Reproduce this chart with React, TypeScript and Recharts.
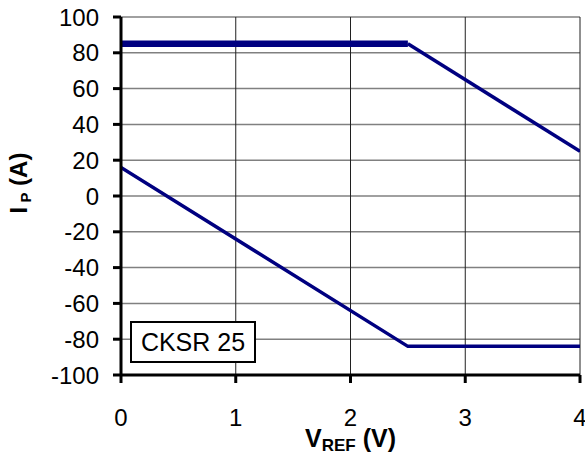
import React from 'react';
import {
  LineChart,
  Line,
  XAxis,
  YAxis,
  CartesianGrid,
} from 'recharts';

const xTicks = [0, 1, 2, 3, 4];
const yTicks = [-100, -80, -60, -40, -20, 0, 20, 40, 60, 80, 100];

// upper limit: flat part drawn heavier, then the falling part
const upperFlat = [
  { x: 0, y: 85 },
  { x: 2.5, y: 85 },
];
const upperSlope = [
  { x: 2.5, y: 85 },
  { x: 4, y: 25 },
];
const lowerLimit = [
  { x: 0, y: 16 },
  { x: 2.5, y: -84 },
  { x: 4, y: -84 },
];

const NAVY = '#000080';
const FONT = '"Liberation Sans", Arial, sans-serif';

const XTitle = ({ viewBox }: any) => {
  const cx = viewBox.x + viewBox.width / 2;
  return (
    <text x={cx} y={447} textAnchor="middle" fontFamily={FONT} fontWeight="bold" fontSize={25} fill="#000">
      <tspan>V</tspan>
      <tspan fontSize={17} dy={4}>REF</tspan>
      <tspan dy={-4}> (V)</tspan>
    </text>
  );
};

const YTitle = () => {
  const cy = 183;
  return (
    <text
      x={27}
      y={cy}
      transform={`rotate(-90, 27, ${cy})`}
      textAnchor="middle"
      fontFamily={FONT}
      fontWeight="bold"
      fontSize={24}
      fill="#000"
    >
      <tspan>I</tspan>
      <tspan fontSize={15} dy={4}> P</tspan>
      <tspan dy={-4}> (A)</tspan>
    </text>
  );
};

export default function App() {
  return (
    <div style={{ position: 'absolute', left: 0, top: 0, width: 585, height: 456, background: '#fff' }}>
      <LineChart
        width={585}
        height={456}
        margin={{ top: 17, right: 5, bottom: 41, left: 61 }}
      >
        <CartesianGrid vertical={false} stroke="#808080" strokeWidth={1.5} />
        <CartesianGrid horizontal={false} stroke="#202020" strokeWidth={1} />
        <XAxis
          type="number"
          dataKey="x"
          domain={[0, 4]}
          ticks={xTicks}
          height={40}
          axisLine={{ stroke: '#000', strokeWidth: 3 }}
          tickLine={{ stroke: '#000', strokeWidth: 3 }}
          tickSize={8}
          tickMargin={26}
          tick={{ fill: '#000', fontSize: 24, fontFamily: FONT }}
          interval={0}
          allowDataOverflow
          label={{ content: <XTitle /> }}
        />
        <YAxis
          type="number"
          dataKey="y"
          domain={[-100, 100]}
          ticks={yTicks}
          width={60}
          axisLine={{ stroke: '#000', strokeWidth: 3 }}
          tickLine={{ stroke: '#000', strokeWidth: 3 }}
          tickSize={8}
          tickMargin={14}
          tick={{ fill: '#000', fontSize: 24, fontFamily: FONT }}
          interval={0}
          allowDataOverflow
          label={{ content: <YTitle /> }}
        />
        <Line data={upperFlat} dataKey="y" stroke={NAVY} strokeWidth={6.5} dot={false} isAnimationActive={false} />
        <Line data={upperSlope} dataKey="y" stroke={NAVY} strokeWidth={3.5} dot={false} isAnimationActive={false} />
        <Line data={lowerLimit} dataKey="y" stroke={NAVY} strokeWidth={3.5} dot={false} isAnimationActive={false} />
      </LineChart>
      <div
        style={{
          position: 'absolute',
          left: 130,
          top: 321,
          width: 122,
          height: 38,
          border: '2px solid #000',
          background: '#fff',
          fontFamily: FONT,
          fontSize: 25,
          lineHeight: '38px',
          textAlign: 'center',
        }}
      >
        CKSR 25
      </div>
    </div>
  );
}
